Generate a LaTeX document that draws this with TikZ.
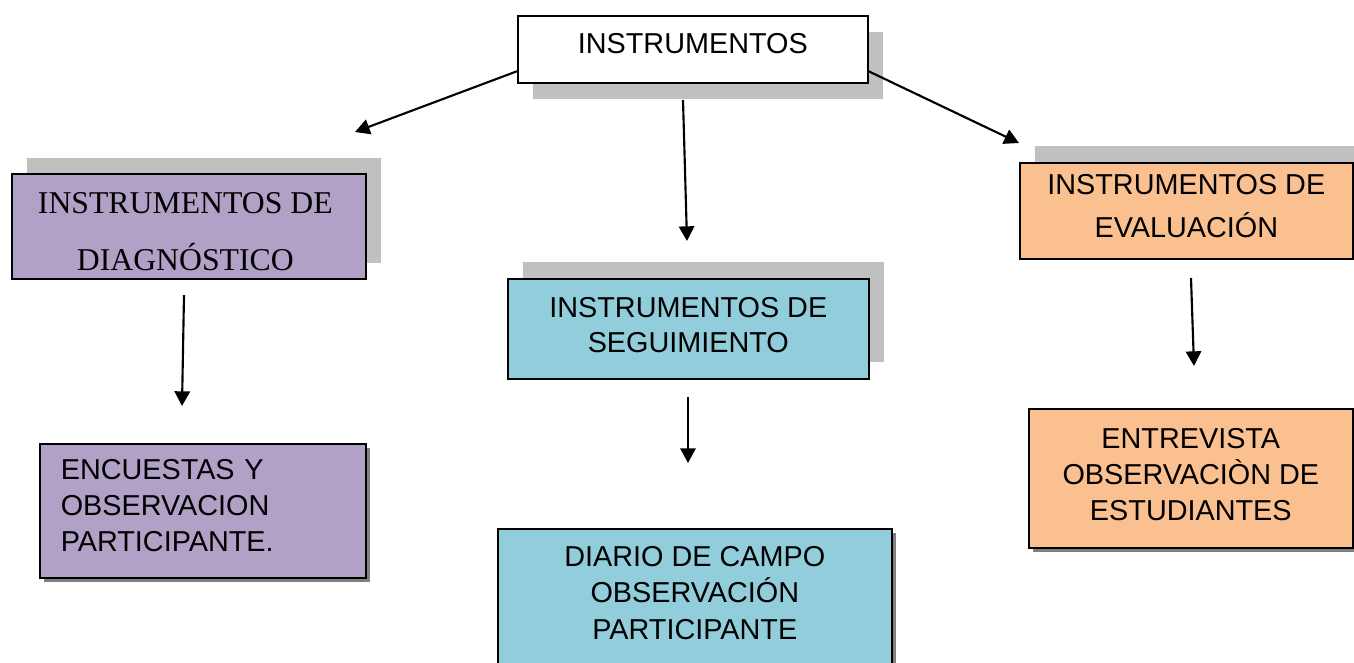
\documentclass[tikz,border=0pt]{standalone}
\usepackage{fontspec}
\setmainfont{Liberation Sans}
\newfontfamily\serifa{Liberation Serif}
\usepackage{tikz}
\usetikzlibrary{calc,shadows,arrows.meta}
\definecolor{lila}{HTML}{B2A1C7}
\definecolor{celeste}{HTML}{92CDDC}
\definecolor{naranja}{HTML}{FAC090}
\definecolor{sombragris}{HTML}{C0C0C0}
\definecolor{sombraosc}{HTML}{808080}
\newcommand{\bajar}[1]{\rule[-#1]{0pt}{#1}}
\tikzset{
  caja/.style={draw=black, line width=1.2pt, inner sep=0pt, anchor=north west, align=center},
  letra/.style={font=\fontsize{21.6}{#1}\selectfont},
  sombra/.style={general shadow={fill=sombragris, shadow xshift=11.5pt, shadow yshift=#1}},
  sombrita/.style={general shadow={fill=sombraosc, shadow xshift=3pt, shadow yshift=-3pt}},
  flecha/.style={line width=1.6pt, -{Triangle[length=11pt,width=11.5pt]}}
}
\begin{document}
\begin{tikzpicture}[x=0.75pt, y=-0.75pt]
    \useasboundingbox (0,0) rectangle (1354,662);
    % cajas
    \node[caja, letra=27, sombra=-12pt, fill=white, minimum width=262.5pt, minimum height=50.25pt] (inst) at (517,15) {INSTRUMENTOS\bajar{9pt}};
    \node[caja, sombra=12pt, fill=lila, minimum width=265.5pt, minimum height=78.75pt] (diag) at (11,173) {};
    \begin{scope}
      \clip (diag.north west) rectangle ([yshift=6.75pt]diag.south east);
      \node[anchor=north, inner sep=0pt, align=center, font=\serifa\fontsize{23.8}{42.5}\selectfont] (diagtexto) at ([xshift=-2.6pt,yshift=-14.6pt]diag.north) {INSTRUMENTOS DE\\DIAGNÓSTICO};
    \end{scope}
    \node[caja, letra=26.25, sombra=12.5pt, fill=celeste, minimum width=270.75pt, minimum height=75pt] (segui) at (507,278) {INSTRUMENTOS DE\\SEGUIMIENTO\bajar{6pt}};
    \node[caja, letra=32.25, sombra=12.5pt, fill=naranja, minimum width=249.75pt, minimum height=72pt] (evalu) at (1019,162) {INSTRUMENTOS DE\\EVALUACIÓN\bajar{6.75pt}};
    \node[caja, letra=27, sombrita, fill=lila, text width=213pt, align=left, inner xsep=15.75pt, minimum height=100.5pt] (encu) at (39,443) {ENCUESTAS Y\\OBSERVACION\\PARTICIPANTE.\bajar{7.5pt}};
    \node[caja, letra=27.4, sombrita, fill=celeste, minimum width=295.5pt, minimum height=102pt] (diario) at (497,528) {DIARIO DE CAMPO\\OBSERVACIÓN\\PARTICIPANTE\bajar{6pt}};
    \node[caja, letra=27, sombrita, fill=naranja, minimum width=243pt, minimum height=104.25pt] (entre) at (1028,408) {ENTREVISTA\\OBSERVACIÒN DE\\ESTUDIANTES\bajar{5.25pt}};
    % flechas
    \coordinate (a1) at ($(inst.north west)!0.82!(inst.south west)$);
    \coordinate (a2) at ($(inst.north east)!0.82!(inst.south east)$);
    \coordinate (p1) at (355,132);
    \coordinate (p2) at (1019,143);
    \coordinate (a3) at (683,100);
    \coordinate (p3) at (687,241);
    \coordinate (a4) at (184,295);
    \coordinate (p4) at (182,406);
    \coordinate (a5) at (688,397);
    \coordinate (p5) at (688,463);
    \coordinate (a6) at (1191,278);
    \coordinate (p6) at (1194,366);
    \draw[flecha] (a1) -- (p1);
    \draw[flecha] (a2) -- (p2);
    \draw[flecha] (a3) -- (p3);
    \draw[flecha] (a4) -- (p4);
    \draw[flecha] (a5) -- (p5);
    \draw[flecha] (a6) -- (p6);
\end{tikzpicture}
\end{document}
